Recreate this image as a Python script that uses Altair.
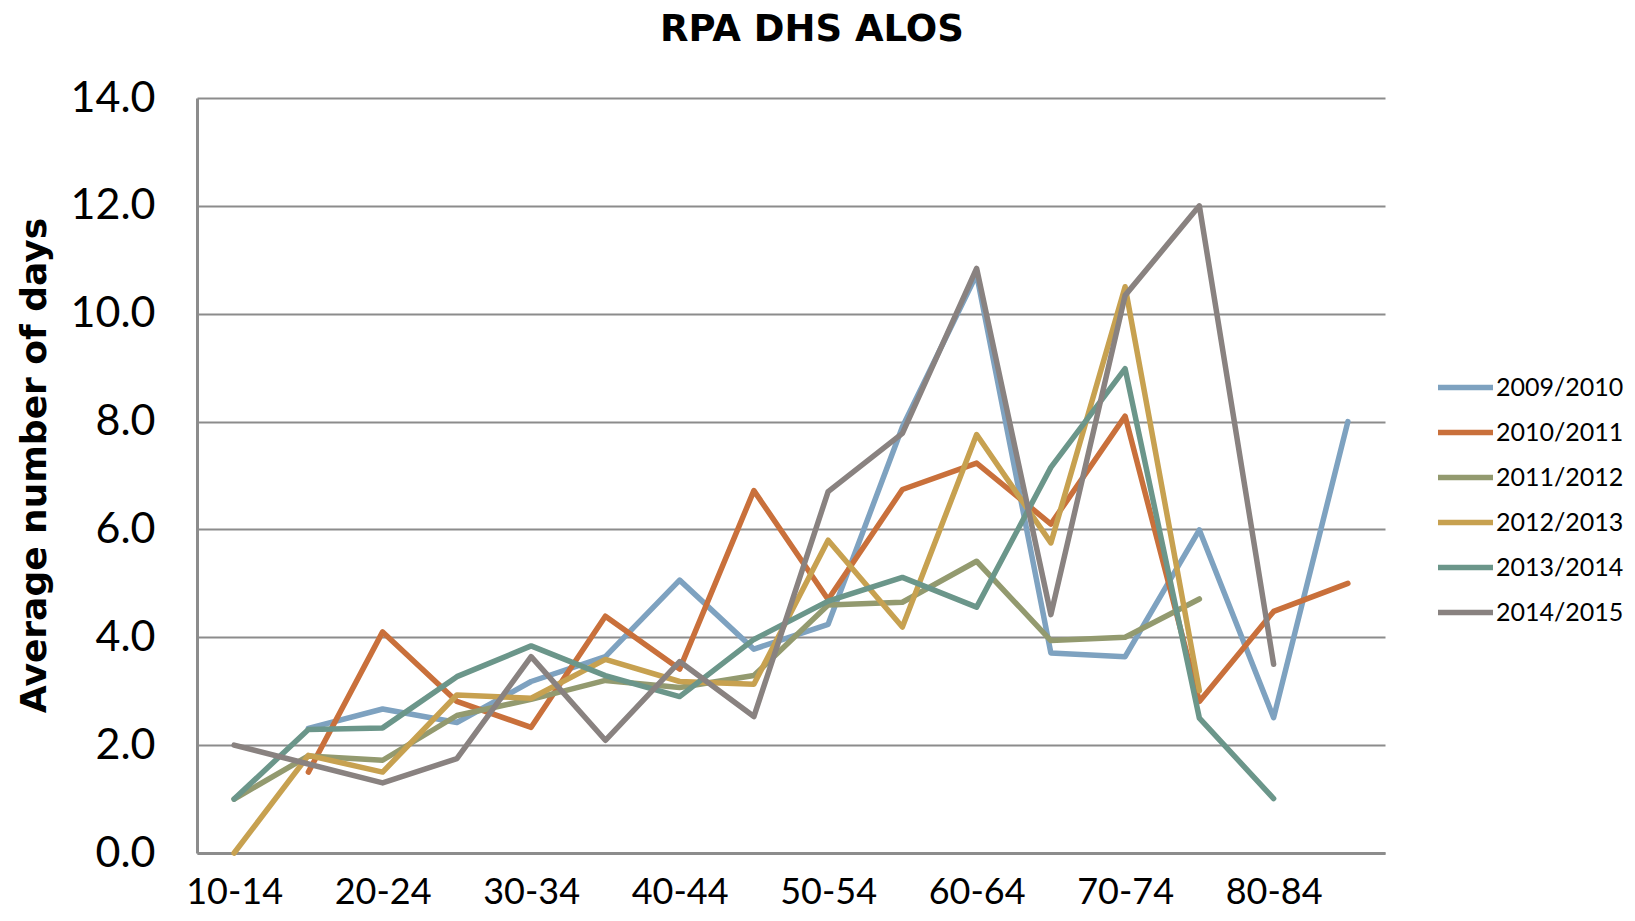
import altair as alt
import pandas as pd

age_groups = ["10-14", "15-19", "20-24", "25-29", "30-34", "35-39", "40-44", "45-49",
              "50-54", "55-59", "60-64", "65-69", "70-74", "75-79", "80-84", "85-89"]
x_tick_labels = ["10-14", "20-24", "30-34", "40-44", "50-54", "60-64", "70-74", "80-84"]
y_ticks = [0, 2, 4, 6, 8, 10, 12, 14]

series_names = ["2009/2010", "2010/2011", "2011/2012", "2012/2013", "2013/2014", "2014/2015"]
series_colors = ["#7EA2C0", "#C9703B", "#939A6F", "#C7A150", "#6B968A", "#898280"]

s_2009_2010 = [None, 2.31, 2.67, 2.42, 3.18, 3.64, 5.06, 3.78, 4.24, 7.90, 10.73, 3.71, 3.64, 5.99, 2.51, 8.00]
s_2010_2011 = [None, 1.50, 4.10, 2.81, 2.33, 4.39, 3.41, 6.72, 4.70, 6.74, 7.23, 6.10, 8.10, 2.81, 4.48, 5.00]
s_2011_2012 = [1.00, 1.80, 1.72, 2.55, 2.85, 3.20, 3.07, 3.29, 4.60, 4.65, 5.41, 3.94, 4.00, 4.71, None, None]
s_2012_2013 = [0.00, 1.81, 1.50, 2.93, 2.87, 3.59, 3.18, 3.13, 5.80, 4.19, 7.76, 5.75, 10.50, 3.01, None, None]
s_2013_2014 = [1.00, 2.29, 2.32, 3.27, 3.84, 3.29, 2.90, 3.96, 4.67, 5.11, 4.56, 7.15, 8.98, 2.50, 1.01, None]
s_2014_2015 = [2.00, 1.65, 1.30, 1.75, 3.64, 2.09, 3.55, 2.53, 6.70, 7.78, 10.84, 4.42, 10.34, 12.00, 3.50, None]

all_series = [s_2009_2010, s_2010_2011, s_2011_2012, s_2012_2013, s_2013_2014, s_2014_2015]

rows = []
for si, (name, vals) in enumerate(zip(series_names, all_series)):
    for ai, (age, v) in enumerate(zip(age_groups, vals)):
        if v is not None:
            rows.append({"Age": age, "Year": name, "Days": v, "order": si * 100 + ai})
df = pd.DataFrame(rows)

FONT = "Lato"

chart = alt.Chart(df).mark_line(strokeWidth=5.5, strokeJoin="round", strokeCap="round").encode(
    x=alt.X("Age:N", sort=age_groups,
            scale=alt.Scale(type="point", padding=0.5),
            axis=alt.Axis(values=x_tick_labels, title=None, labelAngle=0, ticks=False,
                          labelFontSize=36, labelFont=FONT, labelColor="#000000",
                          labelPadding=22, domainColor="#8C8C8C", domainWidth=3,
                          grid=False)),
    y=alt.Y("Days:Q", scale=alt.Scale(domain=[0, 14], nice=False),
            axis=alt.Axis(values=y_ticks, format=".1f", ticks=False,
                          title="Average number of days",
                          titleFont="DejaVu Sans", titleFontSize=36, titleFontWeight="bold",
                          titleColor="#000000", titleAngle=270, titleX=-163, titleY=367,
                          titleAlign="center", titleBaseline="middle",
                          labelFontSize=43, labelFont=FONT, labelColor="#000000",
                          labelPadding=42, domainColor="#8C8C8C", domainWidth=3,
                          gridColor="#8C8C8C", gridWidth=2)),
    color=alt.Color("Year:N", sort=series_names,
                    scale=alt.Scale(domain=series_names, range=series_colors),
                    legend=alt.Legend(title=None, orient="none", legendX=1238, legendY=259,
                                      symbolType="stroke", symbolSize=3025,
                                      symbolStrokeWidth=5.5, labelFont=FONT, labelFontSize=25,
                                      labelColor="#000000", labelOffset=0, rowPadding=1,
                                      padding=0)),
    order=alt.Order("order:Q"),
).properties(
    width=1188,
    height=755,
    title=alt.TitleParams("RPA DHS ALOS", font="DejaVu Sans", fontSize=37, fontWeight="bold",
                          color="#000000", anchor="middle", dx=21, offset=28),
    autosize=alt.AutoSizeParams(type="none"),
    padding={"left": 189, "top": 90, "right": 242, "bottom": 60},
).configure_view(stroke=None)

chart.save("out.html", embed_options={"renderer": "svg", "actions": False})
